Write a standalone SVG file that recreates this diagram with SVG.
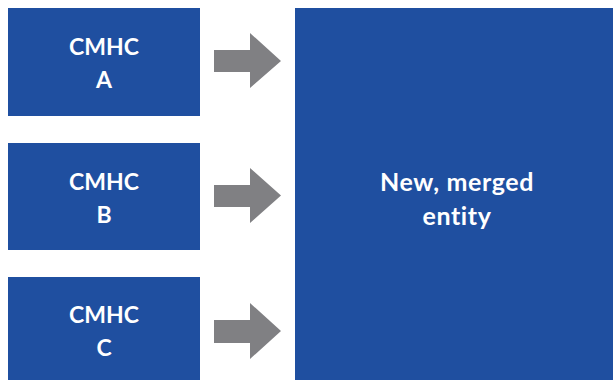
<svg xmlns="http://www.w3.org/2000/svg" width="615" height="381" viewBox="0 0 615 381">
<style>
.box{fill:#1F4FA0}
.arr{fill:#808083}
.t{font-family:"Lato","Open Sans",sans-serif;font-weight:bold;font-size:23px;fill:#fff;text-anchor:middle}
.big{font-size:25px;letter-spacing:0.6px}
</style>
<rect width="615" height="381" fill="#fff"/>
<g id="cmhc-a"><rect class="box" x="8" y="8" width="192" height="108"/><text class="t" x="104" y="55">CMHC</text><text class="t" x="104" y="88">A</text></g>
<g id="cmhc-b"><rect class="box" x="8" y="143" width="192" height="107"/><text class="t" x="104" y="190">CMHC</text><text class="t" x="104" y="223">B</text></g>
<g id="cmhc-c"><rect class="box" x="8" y="277" width="192" height="103"/><text class="t" x="104" y="323">CMHC</text><text class="t" x="104" y="356">C</text></g>
<g id="merged"><rect class="box" x="295" y="8" width="318" height="372"/><text class="t big" x="457" y="191">New, merged</text><text class="t big" x="457" y="225">entity</text></g>
<g id="connectors">
<polygon class="arr" points="214,50 250,50 250,33 281,61 250,88 250,72 214,72"/>
<polygon class="arr" points="214,185 250,185 250,168 281,195.5 250,223 250,207 214,207"/>
<polygon class="arr" points="214,320 250,320 250,303 281,331 250,359 250,343 214,343"/>
</g>
</svg>
